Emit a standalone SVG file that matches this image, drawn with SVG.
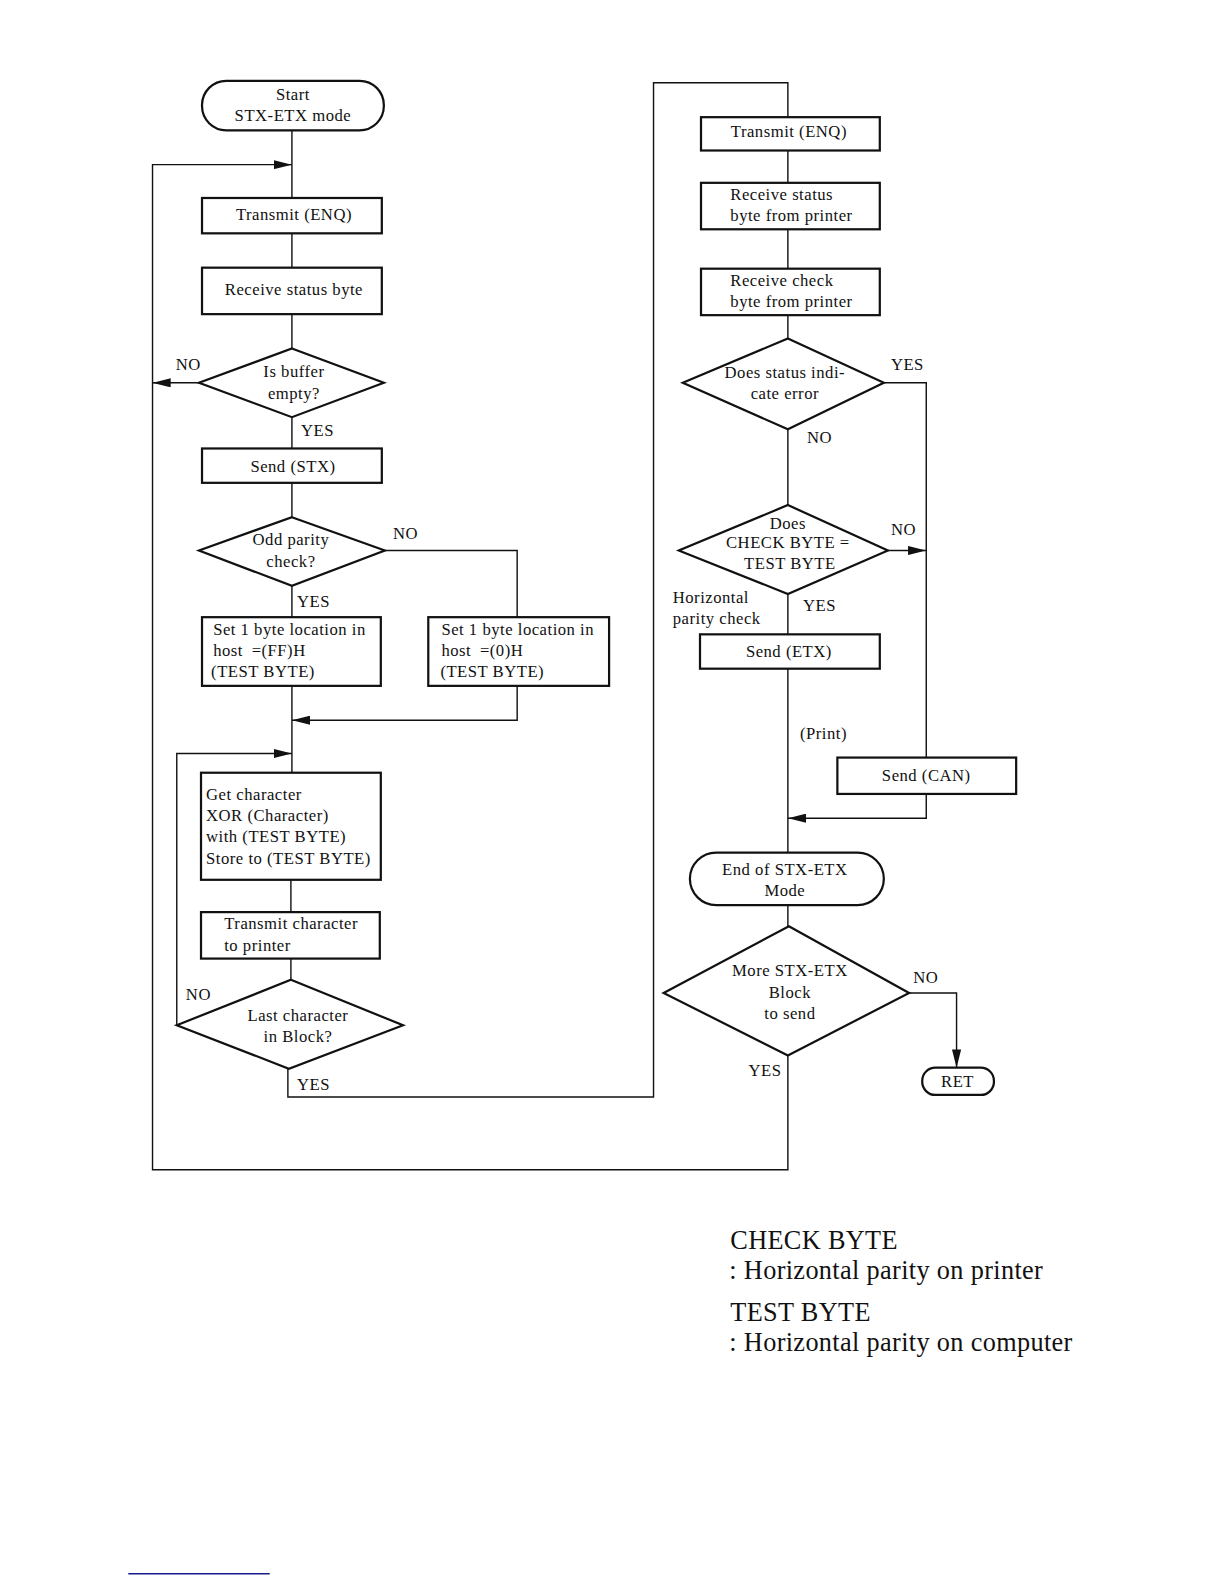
<svg xmlns="http://www.w3.org/2000/svg" width="1224" height="1584" viewBox="0 0 1224 1584">
<style>
.box{fill:#fff;stroke:#111;stroke-width:2.2}
.dia{fill:#fff;stroke:#111;stroke-width:2.2}
.ln{fill:none;stroke:#111;stroke-width:1.4}
text{font-family:"Liberation Serif","Times New Roman",serif;font-size:16.5px;letter-spacing:0.5px;fill:#111}
.c{text-anchor:middle}
.leg{font-size:26px;letter-spacing:0.35px}
</style>
<defs>
<marker id="arr" viewBox="0 0 18 9" refX="18" refY="4.5" markerWidth="18" markerHeight="9" markerUnits="userSpaceOnUse" orient="auto">
<path d="M0,0 L18,4.5 L0,9 z" fill="#111"/>
</marker>
</defs>
<rect width="1224" height="1584" fill="#fff"/>
<g transform="scale(1.0101)">
<g id="connectors">
<path class="ln" d="M289,129 V196"/>
<path class="ln" d="M780,1045 V1158 H151 V163 H289" marker-end="url(#arr)"/>
<path class="ln" d="M289,231 V265"/>
<path class="ln" d="M289,311 V345"/>
<path class="ln" d="M197,379 H151" marker-end="url(#arr)"/>
<path class="ln" d="M289,413 V444"/>
<path class="ln" d="M289,478 V512"/>
<path class="ln" d="M289,580 V611"/>
<path class="ln" d="M381,545 H512 V611"/>
<path class="ln" d="M512,679 V713 H289" marker-end="url(#arr)"/>
<path class="ln" d="M289,679 V765"/>
<path class="ln" d="M175,1015 V746 H289" marker-end="url(#arr)"/>
<path class="ln" d="M288,871 V903"/>
<path class="ln" d="M288,949 V970"/>
<path class="ln" d="M285,1058 V1086 H647 V82 H780 V116"/>
<path class="ln" d="M780,149 V181"/>
<path class="ln" d="M780,227 V266"/>
<path class="ln" d="M780,312 V335"/>
<path class="ln" d="M875,379 H917 V750"/>
<path class="ln" d="M780,425 V500"/>
<path class="ln" d="M879,545 H917" marker-end="url(#arr)"/>
<path class="ln" d="M780,588 V628"/>
<path class="ln" d="M780,662 V844"/>
<path class="ln" d="M917,786 V810 H780" marker-end="url(#arr)"/>
<path class="ln" d="M780,896 V917"/>
<path class="ln" d="M900,983 H947 V1057" marker-end="url(#arr)"/>
</g>
<g id="start">
<rect class="box" x="200" y="80" width="180" height="49" rx="24"/>
<text class="c" x="290" y="99">Start</text>
<text class="c" x="290" y="120">STX-ETX mode</text>
</g>
<g id="transmit-enq-1">
<rect class="box" x="200" y="196" width="178" height="35"/>
<text class="c" x="291" y="218">Transmit (ENQ)</text>
</g>
<g id="receive-status-1">
<rect class="box" x="200" y="265" width="178" height="46"/>
<text class="c" x="291" y="292">Receive status byte</text>
</g>
<g id="buffer-empty">
<polygon class="dia" points="289,345 380,379 289,413 197,379"/>
<text class="c" x="291" y="373">Is buffer</text>
<text class="c" x="291" y="395">empty?</text>
</g>
<text x="174" y="366">NO</text>
<text x="298" y="432">YES</text>
<g id="send-stx">
<rect class="box" x="200" y="444" width="178" height="34"/>
<text class="c" x="290" y="467">Send (STX)</text>
</g>
<g id="odd-parity">
<polygon class="dia" points="289,512 381,545 289,580 197,545"/>
<text class="c" x="288" y="540">Odd parity</text>
<text class="c" x="288" y="561">check?</text>
</g>
<text x="389" y="534">NO</text>
<text x="294" y="601">YES</text>
<g id="set-ff">
<rect class="box" x="200" y="611" width="177" height="68"/>
<text x="211" y="629">Set 1 byte location in</text>
<text x="211" y="649">host <tspan dx="4">=(FF)H</tspan></text>
<text x="209" y="670">(TEST BYTE)</text>
</g>
<g id="set-0">
<rect class="box" x="424" y="611" width="179" height="68"/>
<text x="437" y="629">Set 1 byte location in</text>
<text x="437" y="649">host <tspan dx="4">=(0)H</tspan></text>
<text x="436" y="670">(TEST BYTE)</text>
</g>
<g id="get-char">
<rect class="box" x="199" y="765" width="178" height="106"/>
<text x="204" y="792">Get character</text>
<text x="204" y="813">XOR (Character)</text>
<text x="204" y="834">with (TEST BYTE)</text>
<text x="204" y="855">Store to (TEST BYTE)</text>
</g>
<g id="transmit-char">
<rect class="box" x="199" y="903" width="177" height="46"/>
<text x="222" y="920">Transmit character</text>
<text x="222" y="941">to printer</text>
</g>
<g id="last-char">
<polygon class="dia" points="288,970 399,1015 286,1058 175,1015"/>
<text class="c" x="295" y="1011">Last character</text>
<text class="c" x="295" y="1032">in Block?</text>
</g>
<text x="184" y="990">NO</text>
<text x="294" y="1079">YES</text>
<g id="transmit-enq-2">
<rect class="box" x="694" y="116" width="177" height="33"/>
<text class="c" x="781" y="136">Transmit (ENQ)</text>
</g>
<g id="receive-status-2">
<rect class="box" x="694" y="181" width="177" height="46"/>
<text x="723" y="198">Receive status</text>
<text x="723" y="219">byte from printer</text>
</g>
<g id="receive-check">
<rect class="box" x="694" y="266" width="177" height="46"/>
<text x="723" y="283">Receive check</text>
<text x="723" y="304">byte from printer</text>
</g>
<g id="status-error">
<polygon class="dia" points="780,335 875,379 780,425 676,379"/>
<text class="c" x="777" y="374">Does status indi-</text>
<text class="c" x="777" y="395">cate error</text>
</g>
<text x="882" y="366">YES</text>
<text x="799" y="439">NO</text>
<g id="check-eq-test">
<polygon class="dia" points="780,500 879,545 780,588 672,545"/>
<text class="c" x="780" y="524">Does</text>
<text class="c" x="780" y="543">CHECK BYTE =</text>
<text class="c" x="782" y="563">TEST BYTE</text>
</g>
<text x="882" y="530">NO</text>
<text x="666" y="597">Horizontal</text>
<text x="666" y="618">parity check</text>
<text x="795" y="605">YES</text>
<g id="send-etx">
<rect class="box" x="693" y="628" width="178" height="34"/>
<text class="c" x="781" y="650">Send (ETX)</text>
</g>
<text x="792" y="732">(Print)</text>
<g id="send-can">
<rect class="box" x="829" y="750" width="177" height="36"/>
<text class="c" x="917" y="773">Send (CAN)</text>
</g>
<g id="end">
<rect class="box" x="683" y="844" width="192" height="52" rx="26"/>
<text class="c" x="777" y="866">End of STX-ETX</text>
<text class="c" x="777" y="887">Mode</text>
</g>
<g id="more-blocks">
<polygon class="dia" points="781,917 900,983 780,1045 657,983"/>
<text class="c" x="782" y="966">More STX-ETX</text>
<text class="c" x="782" y="988">Block</text>
<text class="c" x="782" y="1009">to send</text>
</g>
<text x="904" y="973">NO</text>
<text x="741" y="1065">YES</text>
<g id="ret">
<rect class="box" x="913" y="1057" width="71" height="27" rx="13"/>
<text class="c" x="948" y="1076">RET</text>
</g>
<g id="legend">
<text class="leg" x="723" y="1237">CHECK BYTE</text>
<text class="leg" x="722" y="1266">: Horizontal parity on printer</text>
<text class="leg" x="723" y="1308">TEST BYTE</text>
<text class="leg" x="722" y="1337">: Horizontal parity on computer</text>
</g>
<line x1="127" y1="1558" x2="267" y2="1558" stroke="#1a1a8c" stroke-width="1.5"/>
</g>
</svg>
